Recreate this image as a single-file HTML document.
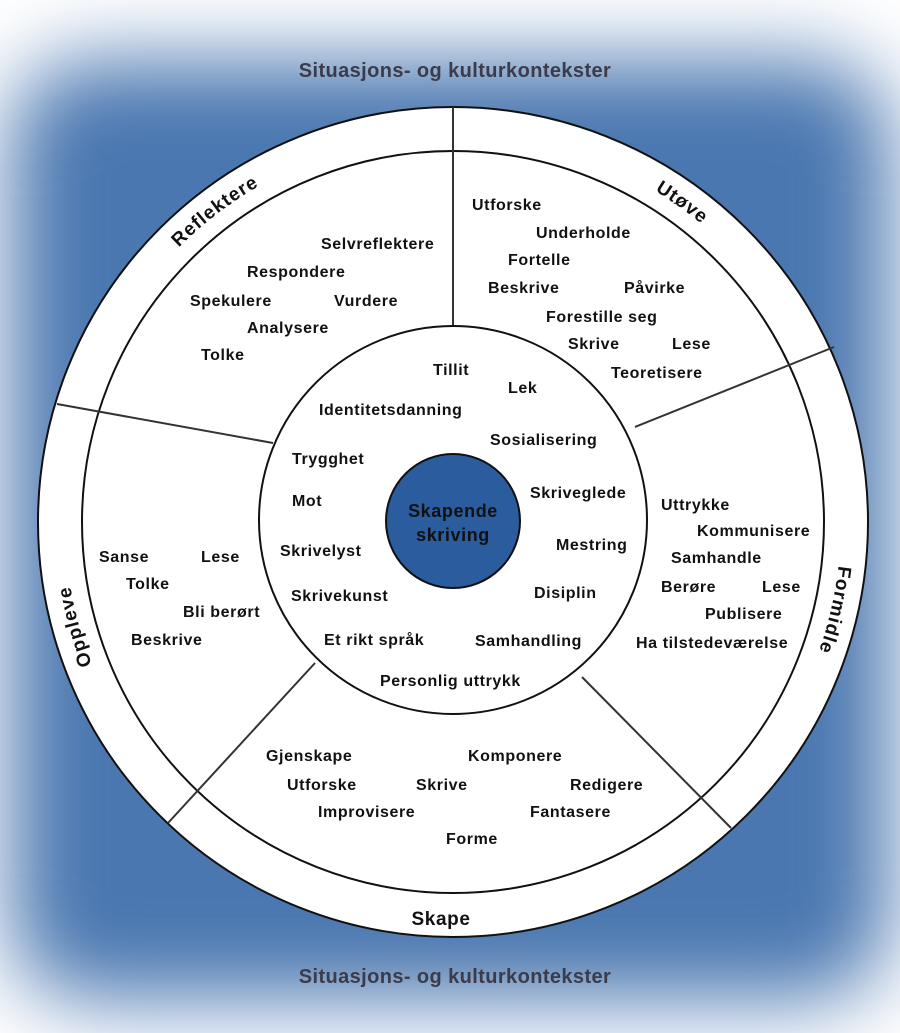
<!DOCTYPE html>
<html><head><meta charset="utf-8"><style>
html,body{margin:0;padding:0;width:900px;height:1033px;overflow:hidden;background:#fff}
#bg{position:absolute;left:10px;top:60px;width:880px;height:940px;background:#4a77b0;filter:blur(42px);border-radius:80px}
svg{position:absolute;left:0;top:0}
text{font-family:"Liberation Sans",Arial,sans-serif;font-weight:bold;font-size:16px;letter-spacing:0.6px;fill:#111}
</style></head><body>
<div id="bg"></div>
<svg width="900" height="1033" viewBox="0 0 900 1033">
<defs>
<path id="ring" d="M453,134 A388,388 0 1 1 452.99,134 Z"/>
</defs>
<text x="455" y="77" text-anchor="middle" style="font-size:20px;letter-spacing:0.4px;fill:#3b3b4a">Situasjons- og kulturkontekster</text>
<text x="455" y="983" text-anchor="middle" style="font-size:20px;letter-spacing:0.4px;fill:#3b3b4a">Situasjons- og kulturkontekster</text>
<circle cx="453" cy="522" r="415" fill="#fff" stroke="#111" stroke-width="2"/>
<circle cx="453" cy="522" r="371" fill="#fff" stroke="#111" stroke-width="2"/>
<g stroke="#333" stroke-width="2">
<line x1="453" y1="107" x2="453" y2="328"/>
<line x1="834" y1="347" x2="635" y2="427"/>
<line x1="57" y1="404" x2="273" y2="443"/>
<line x1="168" y1="823" x2="315" y2="663"/>
<line x1="731" y1="828" x2="582" y2="677"/>
</g>
<circle cx="453" cy="520" r="194" fill="#fff" stroke="#111" stroke-width="2"/>
<circle cx="453" cy="521" r="67" fill="#2a5c9e" stroke="#111" stroke-width="2"/>
<text x="453" y="517" text-anchor="middle" style="font-size:18px">Skapende</text>
<text x="453" y="541" text-anchor="middle" style="font-size:18px">skriving</text>

<text style="font-size:19px;letter-spacing:1px"><textPath href="#ring" startOffset="89.6%" text-anchor="middle">Reflektere</textPath></text>
<text style="font-size:19px;letter-spacing:1px"><textPath href="#ring" startOffset="9.9%" text-anchor="middle">Utøve</textPath></text>
<text style="font-size:19px;letter-spacing:1px"><textPath href="#ring" startOffset="28.6%" text-anchor="middle">Formidle</textPath></text>
<text style="font-size:19px;letter-spacing:1px"><textPath href="#ring" startOffset="70.7%" text-anchor="middle">Oppleve</textPath></text>
<text x="441" y="925" text-anchor="middle" style="font-size:19px">Skape</text>

<text x="321" y="249">Selvreflektere</text>
<text x="247" y="277">Respondere</text>
<text x="190" y="306">Spekulere</text>
<text x="334" y="306">Vurdere</text>
<text x="247" y="333">Analysere</text>
<text x="201" y="360">Tolke</text>

<text x="472" y="210">Utforske</text>
<text x="536" y="238">Underholde</text>
<text x="508" y="265">Fortelle</text>
<text x="488" y="293">Beskrive</text>
<text x="624" y="293">Påvirke</text>
<text x="546" y="322">Forestille seg</text>
<text x="568" y="349">Skrive</text>
<text x="672" y="349">Lese</text>
<text x="611" y="378">Teoretisere</text>

<text x="433" y="375">Tillit</text>
<text x="508" y="393">Lek</text>
<text x="319" y="415">Identitetsdanning</text>
<text x="490" y="445">Sosialisering</text>
<text x="292" y="464">Trygghet</text>
<text x="292" y="506">Mot</text>
<text x="530" y="498">Skriveglede</text>
<text x="280" y="556">Skrivelyst</text>
<text x="556" y="550">Mestring</text>
<text x="291" y="601">Skrivekunst</text>
<text x="534" y="598">Disiplin</text>
<text x="324" y="645">Et rikt språk</text>
<text x="475" y="646">Samhandling</text>
<text x="380" y="686">Personlig uttrykk</text>

<text x="661" y="510">Uttrykke</text>
<text x="697" y="536">Kommunisere</text>
<text x="671" y="563">Samhandle</text>
<text x="661" y="592">Berøre</text>
<text x="762" y="592">Lese</text>
<text x="705" y="619">Publisere</text>
<text x="636" y="648">Ha tilstedeværelse</text>

<text x="99" y="562">Sanse</text>
<text x="201" y="562">Lese</text>
<text x="126" y="589">Tolke</text>
<text x="183" y="617">Bli berørt</text>
<text x="131" y="645">Beskrive</text>

<text x="266" y="761">Gjenskape</text>
<text x="468" y="761">Komponere</text>
<text x="287" y="790">Utforske</text>
<text x="416" y="790">Skrive</text>
<text x="570" y="790">Redigere</text>
<text x="318" y="817">Improvisere</text>
<text x="530" y="817">Fantasere</text>
<text x="446" y="844">Forme</text>
</svg>
</body></html>
